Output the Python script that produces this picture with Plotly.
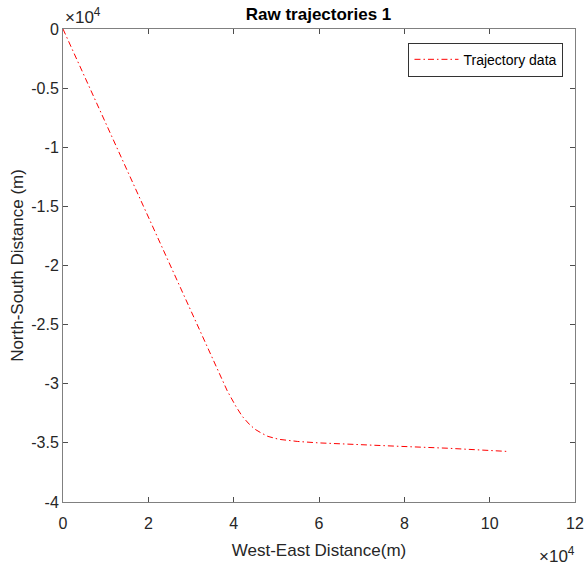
import plotly.graph_objects as go

# Trajectory data (metres)
east_m = [0, 12600, 23400, 36600, 38500, 40500, 42000, 43600, 45000, 46400, 48000,
          50600, 55000, 59900, 70000, 79400, 90000, 99600, 104000]
north_m = [0, -10000, -18600, -29100, -30600, -31900, -32750, -33400, -33850, -34150,
           -34450, -34700, -34880, -35000, -35180, -35300, -35450, -35600, -35720]

x_tick_vals = [0, 20000, 40000, 60000, 80000, 100000, 120000]
x_tick_text = ["0", "2", "4", "6", "8", "10", "12"]
y_tick_vals = [0, -5000, -10000, -15000, -20000, -25000, -30000, -35000, -40000]
y_tick_text = ["0", "-0.5", "-1", "-1.5", "-2", "-2.5", "-3", "-3.5", "-4"]

FONT = "Liberation Sans, Arial, Helvetica, sans-serif"
TXT = "#262626"
AX = "#808080"

fig = go.Figure()
fig.add_trace(go.Scatter(
    x=east_m, y=north_m, mode="lines", name="Trajectory data",
    line=dict(color="#ff0000", width=1, dash="6px,3px,1.5px,3px"),
))

axis_common = dict(
    showline=True, linecolor=AX, linewidth=1, mirror="ticks",
    ticks="inside", ticklen=5, tickcolor="#4d4d4d", tickwidth=1,
    showgrid=False, zeroline=False, automargin=False,
    tickfont=dict(family=FONT, size=16, color=TXT),
)

fig.update_layout(
    width=586, height=568,
    margin=dict(l=63, r=11, t=29, b=66),
    paper_bgcolor="white", plot_bgcolor="white",
    font=dict(family=FONT, color=TXT),
    title=dict(text="<b>Raw trajectories 1</b>", x=0.5436, xanchor="center",
               y=1 - 14 / 568, yanchor="middle",
               font=dict(family=FONT, size=17, color="#000000")),
    xaxis=dict(range=[0, 120000], tickvals=x_tick_vals, ticktext=x_tick_text,
               ticklabelstandoff=7,
               title=dict(text="West-East Distance(m)", standoff=12,
                          font=dict(family=FONT, size=17, color=TXT)),
               **axis_common),
    yaxis=dict(range=[-40000, 0], tickvals=y_tick_vals, ticktext=y_tick_text,
               title=dict(text="North-South Distance (m)", standoff=3,
                          font=dict(family=FONT, size=17, color=TXT)),
               **axis_common),
    legend=dict(x=0.9775, y=0.971, xanchor="right", yanchor="top",
                bgcolor="white", bordercolor="#333333", borderwidth=1,
                font=dict(family=FONT, size=14, color="#000000"),
                itemwidth=44),
    showlegend=True,
)

fig.add_annotation(text="×10<sup>4</sup>", xref="paper", yref="paper",
                   x=0, y=1, xanchor="left", yanchor="bottom", yshift=0,
                   showarrow=False, font=dict(family=FONT, size=17, color=TXT))
fig.add_annotation(text="×10<sup>4</sup>", xref="paper", yref="paper",
                   x=0.9266, y=0, xanchor="left", yanchor="top", yshift=-40,
                   showarrow=False, font=dict(family=FONT, size=17, color=TXT))

fig.write_html("out.html")
